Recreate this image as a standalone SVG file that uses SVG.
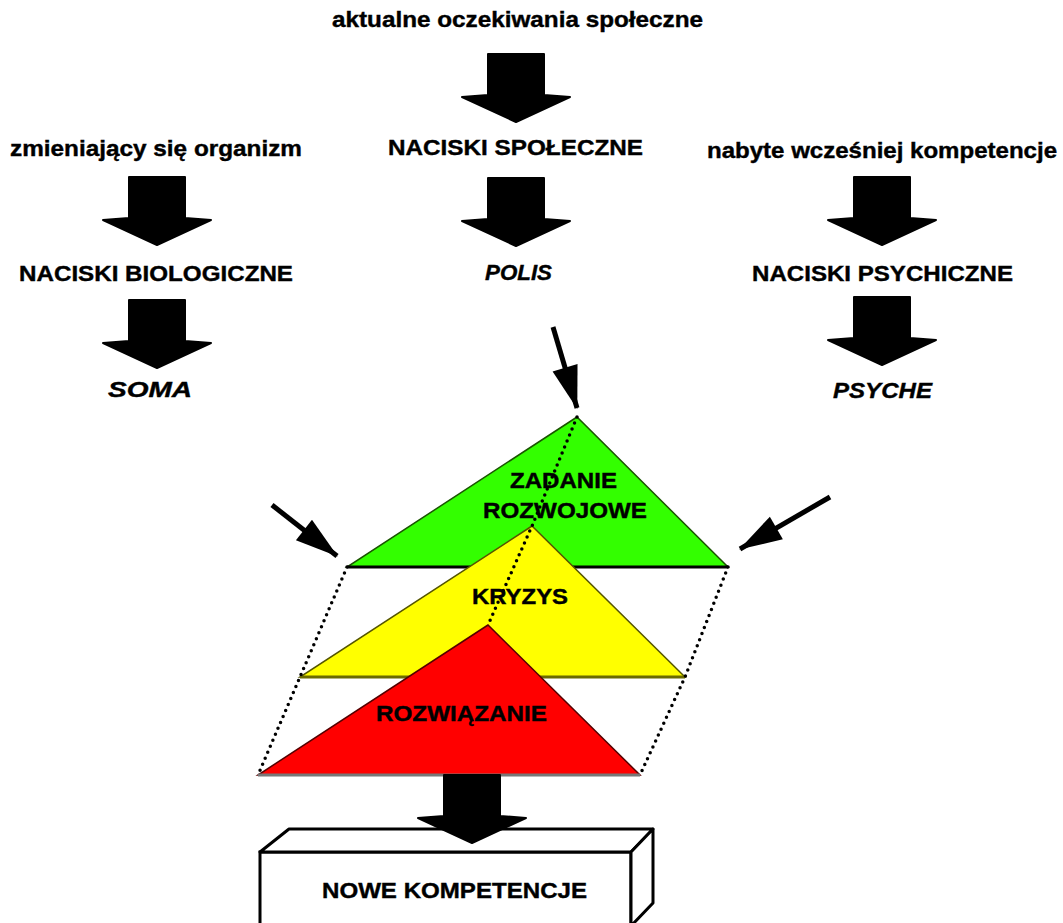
<svg xmlns="http://www.w3.org/2000/svg" xmlns:xlink="http://www.w3.org/1999/xlink" width="1063" height="923" viewBox="0 0 1063 923">
<style>
.t{font-family:"Liberation Sans",Arial,sans-serif;font-weight:bold;font-size:22px;fill:#000;stroke:#000;stroke-width:0.4}
.i{font-style:italic}
.dot{fill:none;stroke:#000;stroke-width:3.5;stroke-linecap:round;stroke-dasharray:0 6.5}
.sm{stroke:#000;stroke-width:5;marker-end:url(#hd)}
.ba{fill:#000;stroke:#000;stroke-width:2;stroke-linejoin:round}
</style>
<defs>
<path id="big" d="M-28,0 L28,0 L28,41 L54,43 L0,68 L-54,43 L-28,41 Z"/>
<marker id="hd" markerUnits="userSpaceOnUse" markerWidth="50" markerHeight="32" viewBox="0 -16 44 32" refX="42" refY="0" orient="auto">
<path d="M0,-13 L43,0 L0,13 Z" fill="#000"/>
</marker>
</defs>
<rect width="1063" height="923" fill="#fff"/>
<g id="labels">
<text class="t" x="332" y="27" textLength="371" lengthAdjust="spacingAndGlyphs">aktualne oczekiwania społeczne</text>
<text class="t" x="10" y="156" textLength="292" lengthAdjust="spacingAndGlyphs">zmieniający się organizm</text>
<text class="t" x="388" y="155" textLength="255" lengthAdjust="spacingAndGlyphs">NACISKI SPOŁECZNE</text>
<text class="t" x="707" y="158" textLength="350" lengthAdjust="spacingAndGlyphs">nabyte wcześniej kompetencje</text>
<text class="t" x="19" y="281" textLength="274" lengthAdjust="spacingAndGlyphs">NACISKI BIOLOGICZNE</text>
<text class="t i" x="485" y="280" textLength="67" lengthAdjust="spacingAndGlyphs">POLIS</text>
<text class="t" x="752" y="281" textLength="261" lengthAdjust="spacingAndGlyphs">NACISKI PSYCHICZNE</text>
<text class="t i" x="108" y="397" textLength="84" lengthAdjust="spacingAndGlyphs">SOMA</text>
<text class="t i" x="833" y="398" textLength="99" lengthAdjust="spacingAndGlyphs">PSYCHE</text>
</g>
<g id="big-arrows">
<use xlink:href="#big" href="#big" class="ba" transform="translate(516,54)"/>
<use xlink:href="#big" href="#big" class="ba" transform="translate(157,177)"/>
<use xlink:href="#big" href="#big" class="ba" transform="translate(157,300)"/>
<use xlink:href="#big" href="#big" class="ba" transform="translate(516,178)"/>
<use xlink:href="#big" href="#big" class="ba" transform="translate(882,177)"/>
<use xlink:href="#big" href="#big" class="ba" transform="translate(882,297)"/>
</g>
<g id="zadanie">
<polygon points="577,417 347,567 728,567" fill="#33ff00" stroke="#1a5500" stroke-width="1.5"/>
<line x1="347" y1="567" x2="728" y2="567" stroke="#000" stroke-width="3"/>
</g>
<g id="kryzys">
<polygon points="532,526 300,677 685,677" fill="#ffff00" stroke="#555500" stroke-width="1.5"/>
<line x1="300" y1="677" x2="685" y2="677" stroke="#6b6b00" stroke-width="3"/>
</g>
<g id="rozwiazanie">
<polygon points="488,625 258,775 640,775" fill="#ff0000" stroke="#550000" stroke-width="1.5"/>
<line x1="258" y1="775" x2="640" y2="775" stroke="#777" stroke-width="3"/>
</g>
<g id="connectors">
<polyline class="dot" points="347,567 300,677 258,775"/>
<polyline class="dot" points="728,567 685,677 640,775"/>
<polyline class="dot" points="577,417 532,526 488,625"/>
<line class="sm" x1="553" y1="327" x2="577" y2="408"/>
<line class="sm" x1="272" y1="505" x2="337" y2="556"/>
<line class="sm" x1="830" y1="497" x2="740" y2="549"/>
</g>
<g id="triangle-labels">
<text class="t" x="510" y="488" textLength="107" lengthAdjust="spacingAndGlyphs">ZADANIE</text>
<text class="t" x="483" y="518" textLength="164" lengthAdjust="spacingAndGlyphs">ROZWOJOWE</text>
<text class="t" x="472" y="604" textLength="96" lengthAdjust="spacingAndGlyphs">KRYZYS</text>
<text class="t" x="376" y="721" textLength="171" lengthAdjust="spacingAndGlyphs">ROZWIĄZANIE</text>
</g>
<g id="nowe-kompetencje">
<rect x="260" y="852" width="371" height="80" fill="#fff" stroke="#000" stroke-width="3"/>
<polygon points="260,852 289,829 653,829 631,852" fill="#fff" stroke="#000" stroke-width="3" stroke-linejoin="round"/>
<polygon points="631,852 653,829 653,903 631,926" fill="#fff" stroke="#000" stroke-width="3" stroke-linejoin="round"/>
<text class="t" x="322" y="898" textLength="265" lengthAdjust="spacingAndGlyphs">NOWE KOMPETENCJE</text>
</g>
<g id="bottom-arrow">
<use xlink:href="#big" href="#big" class="ba" transform="translate(472,775)"/>
</g>
</svg>
